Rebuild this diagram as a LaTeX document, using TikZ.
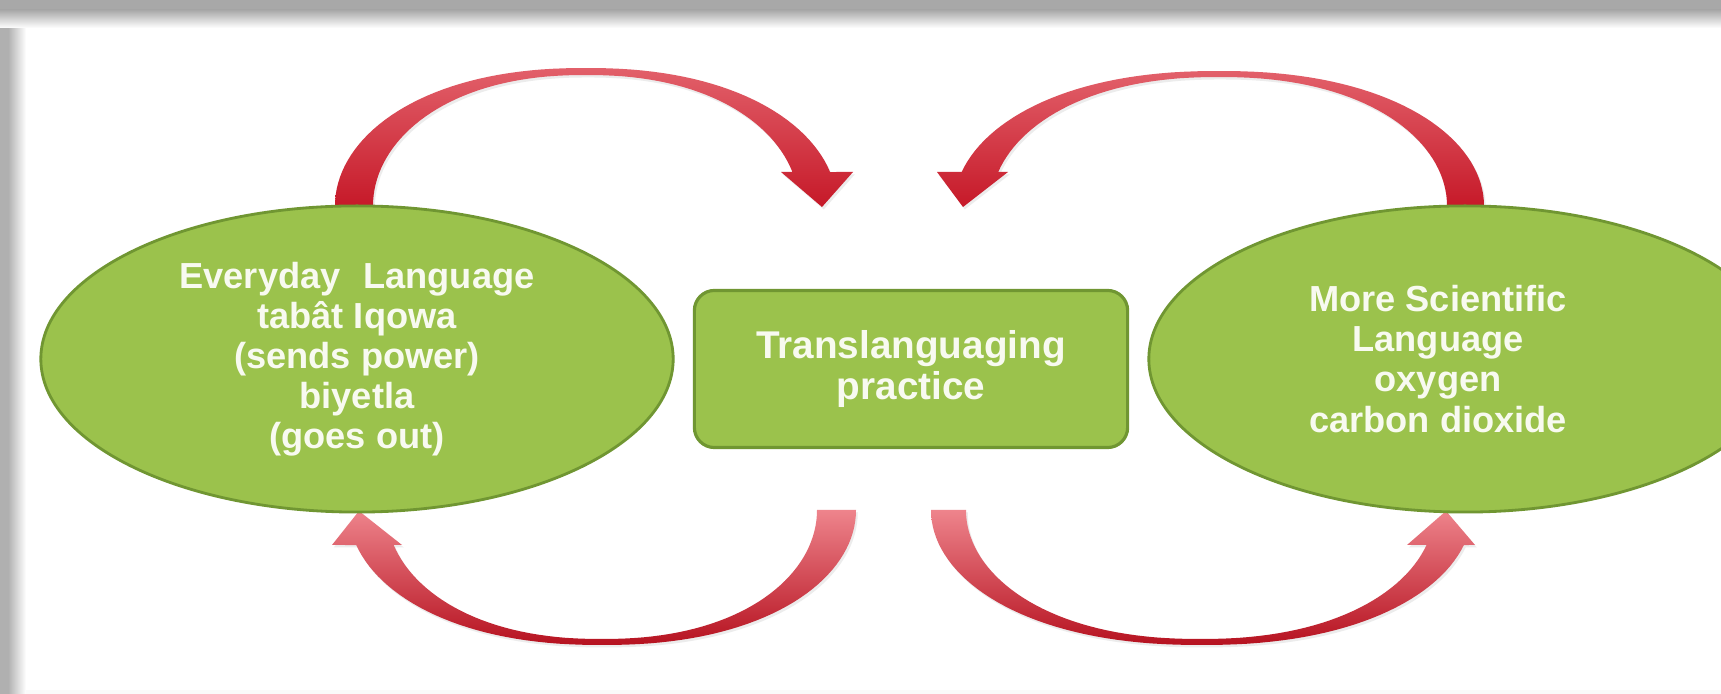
\documentclass[tikz,border=0pt]{standalone}
\usepackage{fontspec}
\setmainfont{Liberation Sans}
\usetikzlibrary{shapes.geometric,shadows}
\definecolor{leafgreen}{RGB}{155,194,76}
\definecolor{leafedge}{RGB}{112,150,50}
\definecolor{arcpale}{RGB}{226,96,106}
\definecolor{arcdeep}{RGB}{196,20,36}
\definecolor{arcpink}{RGB}{238,132,140}
\definecolor{arcwine}{RGB}{182,18,32}
\definecolor{softwhite}{RGB}{248,250,240}
\begin{document}
\begin{tikzpicture}[x=0.01cm,y=0.01cm,
  % slightly squarer-than-elliptic horizontal profile for the curved arrows
  declare function={ex(\t)=sign(cos(\t))*pow(abs(cos(\t))+0.00001,0.9);},
  greenellipse/.style={ellipse, fill=leafgreen, draw=leafedge, line width=0.8pt,
    inner sep=0pt, minimum width=6.32cm, minimum height=3.06cm},
  greenbox/.style={rectangle, rounded corners=0.2cm, fill=leafgreen, draw=leafedge,
    line width=0.9pt, minimum width=4.33cm, minimum height=1.57cm},
  labeltext/.style={text=softwhite, font=\bfseries\fontsize{10.3}{11.4}\selectfont, align=center},
  boxtext/.style={text=softwhite, font=\bfseries\fontsize{11}{11.6}\selectfont, align=center},
  arcshadow/.style={drop shadow={opacity=0.15, shadow xshift=0.5pt, shadow yshift=-0.7pt}},
  toparc/.style={top color=arcpale, bottom color=arcdeep, arcshadow},
  bottomarc/.style={top color=arcpink, bottom color=arcwine, arcshadow}
]
\useasboundingbox (0,0) rectangle (1721,694);
\clip (0,0) rectangle (1721,694);
\fill[white] (0,0) rectangle (1721,694);

% page frame: soft grey edges on the left and at the top
\fill[black!2] (0,0) rectangle (1721,4);
\fill[black!31] (0,0) rectangle (8,694);
\shade[left color=black!31, right color=white] (8,0) rectangle (26,694);
\fill[black!34] (0,684) rectangle (1721,694);
\shade[top color=black!34, bottom color=white] (0,666) rectangle (1721,684);

% upper arc: everyday language -> translanguaging
\shade[toparc] (335,478)
  -- plot[domain=180:14.26, samples=70] ({586+251*ex(\x)},{488+138*sin(\x)})
  -- (853,522) -- (822,487) -- (781,522)
  -- plot[domain=15.04:180, samples=70] ({586+213*ex(\x)},{488+131*sin(\x)})
  -- (373,478) -- cycle;

% upper arc: scientific language -> translanguaging
\shade[toparc] (1484,478)
  -- plot[domain=0:165.41, samples=70] ({1219+265*ex(\x)},{488+135*sin(\x)})
  -- (937,522) -- (963,487) -- (1008,522)
  -- plot[domain=164.72:0, samples=70] ({1219+228*ex(\x)},{488+129*sin(\x)})
  -- (1447,478) -- cycle;

% lower arc: translanguaging -> everyday language
\shade[bottomarc] (856,184)
  -- plot[domain=0:-164.97, samples=70] ({602.2+253.8*ex(\x)},{184+135*sin(\x)})
  -- (332,149) -- (359,183) -- (402,149)
  -- plot[domain=-164.26:0, samples=70] ({601.7+215.3*ex(\x)},{184+129*sin(\x)})
  -- cycle;

% lower arc: translanguaging -> scientific language
\shade[bottomarc] (931,184)
  -- plot[domain=-180:-15.03, samples=70] ({1201.6+270.6*ex(\x)},{184+135*sin(\x)})
  -- (1475,149) -- (1446,183) -- (1407,149)
  -- plot[domain=-15.74:-180, samples=70] ({1200.2+234.2*ex(\x)},{184+129*sin(\x)})
  -- cycle;

% the three language blocks
\node[greenellipse, labeltext] (everyday) at (357,335)
  {Everyday\hspace{6.5pt}Language\\tabât Iqowa\\(sends power)\\biyetla\\(goes out)};
\node[greenbox, boxtext] (practice) at (911,325) {Translanguaging\\practice};
\node[greenellipse] (scientific) at (1465,335) {};
\node[labeltext] (scitext) at (1438,335)
  {More Scientific\\Language\\oxygen\\carbon dioxide};
\end{tikzpicture}
\end{document}
